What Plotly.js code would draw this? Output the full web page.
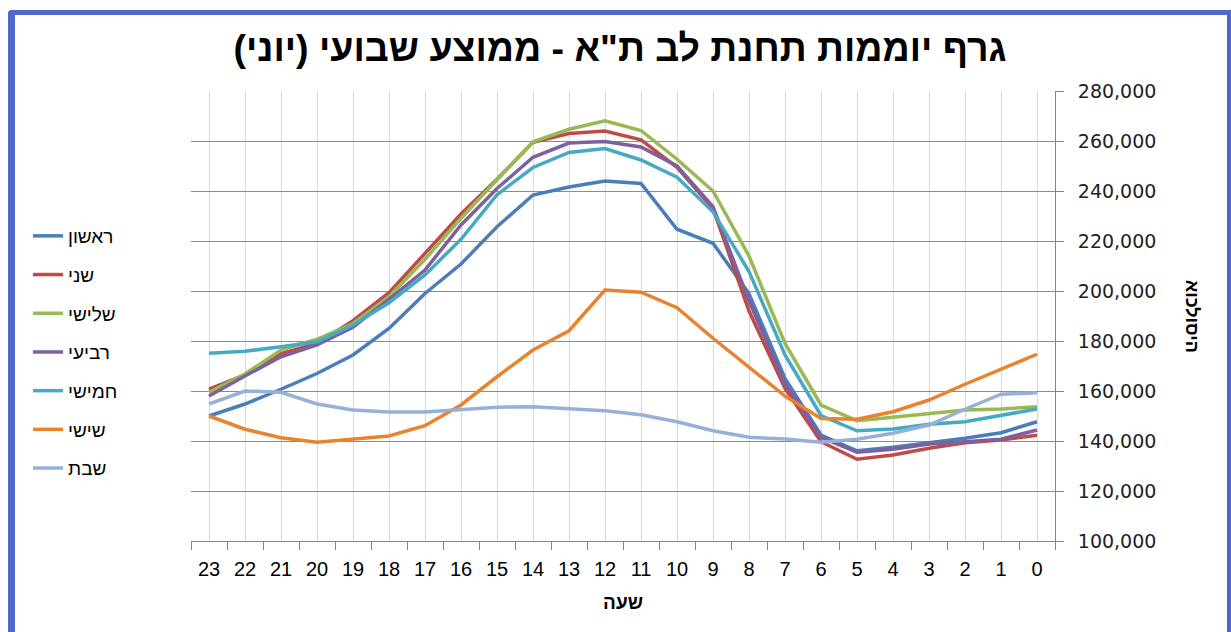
<!DOCTYPE html>
<html>
<head>
<meta charset="utf-8">
<script src="https://cdn.plot.ly/plotly-3.0.1.min.js"></script>
<style>
  html, body { margin:0; padding:0; background:#fff; overflow:hidden; }
  #chart { position:absolute; left:0; top:0; width:1231px; height:632px; }
  #frame { position:absolute; left:8px; top:10px; width:1223px; height:700px; box-sizing:border-box;
           border-left:7px solid #4D68C9; border-top:5px solid #4D68C9; border-right:4px solid #4D68C9;
           border-top-left-radius:4px; pointer-events:none; }
</style>
</head>
<body>
<div id="chart"></div>
<div id="frame"></div>
<script>
// Hours 0..23 (axis drawn reversed: 23 on the left, 0 on the right)
const hours = [0,1,2,3,4,5,6,7,8,9,10,11,12,13,14,15,16,17,18,19,20,21,22,23];
const hourLabels = ["0","1","2","3","4","5","6","7","8","9","10","11","12","13","14","15","16","17","18","19","20","21","22","23"];

// Values in thousands, indexed by hour 0..23
const sunday    = [147.7,143.3,141.1,139.3,137.5,136.1,142.4,165.0,199.0,219.1,224.7,243.0,244.0,241.6,238.4,225.7,210.8,199.0,185.0,174.4,167.0,160.7,154.8,150.0];
const monday    = [142.3,140.4,139.3,137.1,134.4,132.7,139.7,161.0,192.0,233.0,249.5,260.5,264.0,263.0,259.5,244.7,230.8,214.8,199.3,188.1,179.0,175.0,166.4,160.7];
const tuesday   = [153.7,152.8,152.4,150.8,149.5,148.1,154.4,179.0,214.0,240.0,252.7,264.2,268.1,264.7,259.7,244.5,229.1,212.7,197.7,187.0,180.7,176.4,166.8,159.5];
const wednesday = [144.4,140.7,139.7,138.8,136.7,135.5,141.5,163.0,196.0,233.7,250.0,257.6,259.8,259.2,253.5,241.0,226.4,208.4,196.7,185.5,178.4,173.7,166.0,158.0];
const thursday  = [152.8,150.4,147.7,146.7,144.8,144.1,150.2,174.4,207.8,231.7,245.5,252.4,257.0,255.4,249.4,238.5,220.7,206.4,195.3,186.4,179.7,177.7,175.9,175.1];
const friday    = [174.7,168.8,162.7,156.4,151.7,148.7,149.0,158.0,169.7,181.1,193.3,199.5,200.4,184.1,176.4,165.7,154.4,146.1,142.0,140.8,139.5,141.3,144.7,150.0];
const saturday  = [159.3,158.7,152.7,146.4,143.1,140.7,139.5,140.8,141.5,144.1,147.7,150.5,152.1,152.8,153.7,153.5,152.4,151.6,151.6,152.4,154.8,159.5,160.0,154.8];

const seriesNames = ["ראשון","שני","שלישי","רביעי","חמישי","שישי","שבת"];
const seriesData  = [sunday, monday, tuesday, wednesday, thursday, friday, saturday];
const seriesColors = ["#4A7EBB","#BE4B48","#98B954","#7D60A0","#46AAC5","#E8832F","#95B1D8"];

const yTicks = [100000,120000,140000,160000,180000,200000,220000,240000,260000,280000];

const traces = seriesNames.map((name, i) => ({
  type: 'scatter', mode: 'lines', name: name,
  x: hours, y: seriesData[i].map(v => v * 1000),
  line: { color: seriesColors[i], width: 3.5 },
  legendgroup: 'g' + i,
  hoverinfo: 'skip'
}));

const boundaries = hours.map(h => h - 0.5).concat([hours[hours.length-1] + 0.5]);

const layout = {
  width: 1231, height: 632,
  margin: { l: 191, r: 176, t: 91, b: 91 },
  paper_bgcolor: '#fff', plot_bgcolor: '#fff',
  showlegend: true,
  title: {
    text: 'גרף יוממות תחנת לב ת"א - ממוצע שבועי (יוני)',
    font: { family: 'Liberation Sans, Arial, sans-serif', size: 37.5, color: '#000', weight: 'bold' },
    x: 620/1231, xref: 'container', xanchor: 'center',
    y: 1 - 48/632, yref: 'container', yanchor: 'middle'
  },
  xaxis: {
    type: 'linear', range: [23.5, -0.5],
    tickmode: 'array', tickvals: hours, ticktext: hourLabels,
    ticks: '', showgrid: true, gridcolor: '#D9D9D9', gridwidth: 1,
    zeroline: false, showline: true, linecolor: '#868686', linewidth: 1,
    ticklabelstandoff: 10,
    tickfont: { family: 'Liberation Sans Narrow, Arial Narrow, Liberation Sans, sans-serif', size: 20, color: '#000' },
    minor: { tickmode: 'array', tickvals: boundaries, ticks: 'outside', ticklen: 8, tickcolor: '#868686', showgrid: false },
    title: { text: 'שעה', font: { family: 'Liberation Sans, Arial, sans-serif', size: 19, color: '#000', weight: 'bold' }, standoff: 16 },
    fixedrange: true
  },
  yaxis: {
    side: 'right', range: [100000, 280000],
    tickmode: 'array', tickvals: yTicks, tickformat: ',d',
    ticks: 'outside', ticklen: 8, tickcolor: '#868686',
    ticklabelstandoff: 10,
    showgrid: true, gridcolor: '#8C8C8C', gridwidth: 1,
    zeroline: false, showline: true, linecolor: '#868686', linewidth: 1,
    tickfont: { family: 'DejaVu Sans, sans-serif', size: 19, color: '#222' },
    fixedrange: true
  },
  legend: {
    xref: 'container', yref: 'container',
    x: 28/1231, y: 1 - 217/632, xanchor: 'left', yanchor: 'top',
    font: { family: 'Liberation Sans, Arial, sans-serif', size: 19, color: '#000' },
    bgcolor: 'rgba(0,0,0,0)', tracegroupgap: 11, traceorder: 'grouped'
  },
  annotations: [{
    text: '\u202Dאוכלוסיה\u202C', xref: 'paper', yref: 'paper',
    x: 1 + (1192-1055)/864, y: 0.5, xanchor: 'center', yanchor: 'middle',
    textangle: 90, showarrow: false,
    font: { family: 'Liberation Sans, Arial, sans-serif', size: 18, color: '#000', weight: 'bold' }
  }]
};

Plotly.newPlot('chart', traces, layout, { displayModeBar: false, staticPlot: true });
</script>
</body>
</html>
